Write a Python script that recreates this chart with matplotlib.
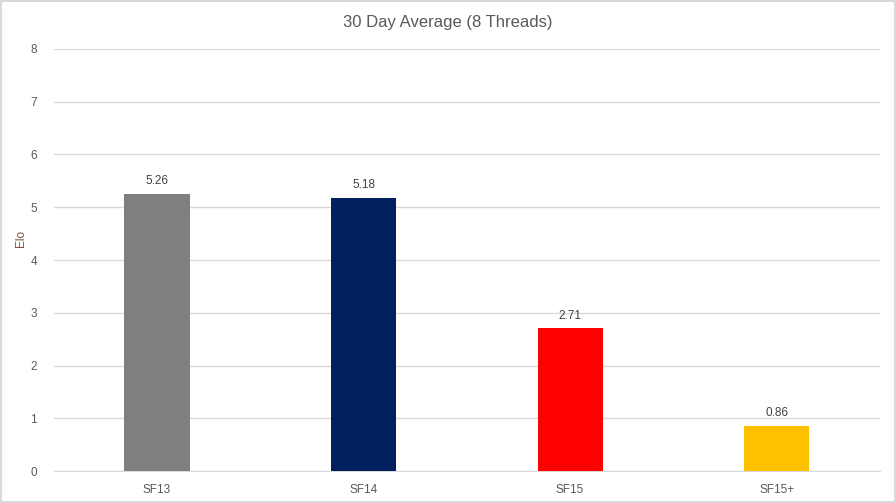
import matplotlib.pyplot as plt

versions = ["SF13", "SF14", "SF15", "SF15+"]
elo = [5.26, 5.18, 2.71, 0.86]
colores = ["#7f7f7f", "#002060", "#ff0000", "#ffc000"]

plt.rcParams["font.family"] = ["Liberation Sans", "DejaVu Sans"]

fig = plt.figure(figsize=(8.96, 5.03), dpi=100)
ax = fig.add_axes([0.060, 0.0636, 0.922, 0.839])

barras = ax.bar(versions, elo, width=0.315, color=colores, zorder=3)
for b, v in zip(barras, elo):
    ax.text(b.get_x() + b.get_width() / 2, v + 0.12, f"{v:.2f}",
            ha="center", va="bottom", fontsize=8.5, color="#404040")

ax.set_xlim(-0.5, 3.5)
ax.set_ylim(0, 8)
ax.set_yticks(range(0, 9))
ax.grid(axis="y", color="#d9d9d9", linewidth=1, zorder=0)
for s in ["top", "right", "left"]:
    ax.spines[s].set_visible(False)
ax.spines["bottom"].set_color("#d9d9d9")
ax.tick_params(axis="both", length=0, labelsize=8.5, colors="#595959")
ax.tick_params(axis="x", pad=9)
ax.tick_params(axis="y", pad=12)

ax.set_ylabel("Elo", fontsize=8.5, color="#7f4f3f")
ax.yaxis.set_label_coords(-0.032, 0.55)
fig.text(0.5, 0.955, "30 Day Average (8 Threads)", ha="center", va="center",
         fontsize=12, color="#595959")

# marco del gráfico
fig.patches.append(plt.Rectangle((0.001, 0.001), 0.998, 0.998, transform=fig.transFigure,
                                 fill=False, edgecolor="#d9d9d9", linewidth=1.5))

fig.savefig("out.png", dpi=100)
